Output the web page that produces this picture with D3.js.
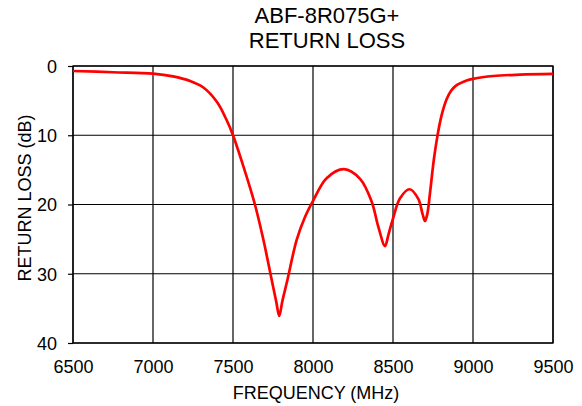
<!DOCTYPE html>
<html>
<head>
<meta charset="utf-8">
<script src="https://cdn.jsdelivr.net/npm/d3@7/dist/d3.min.js"></script>
<style>
  html, body { margin: 0; padding: 0; background: #fff; }
  svg text { font-family: "Liberation Sans", Arial, sans-serif; fill: #000; }
</style>
</head>
<body>
<svg id="chart" width="582" height="406"></svg>
<script>
// ---- data ----
const titleLines = ["ABF-8R075G+", "RETURN LOSS"];
const xLabel = "FREQUENCY (MHz)";
const yLabel = "RETURN LOSS (dB)";
const xTicks = [6500, 7000, 7500, 8000, 8500, 9000, 9500];
const yTicks = [0, 10, 20, 30, 40];
const freqMHz = [6500, 6750, 7000, 7125, 7230, 7315, 7400, 7460, 7500, 7565, 7637, 7690, 7742, 7770, 7789, 7808, 7840, 7898, 7950, 8002, 8085, 8194, 8294, 8367, 8408, 8450, 8472, 8498, 8544, 8604, 8658, 8685, 8700, 8715, 8731, 8756, 8780, 8804, 8835, 8862, 8890, 8960, 9000, 9127, 9294, 9500];
const returnLossDb = [0.72, 0.9, 1.1, 1.5, 2.15, 3.1, 5.2, 7.8, 10.0, 14.5, 20.0, 25.1, 30.9, 34.0, 36.1, 34.0, 30.9, 25.1, 21.8, 19.4, 16.2, 14.9, 16.3, 19.6, 23.2, 26.0, 24.3, 22.2, 19.1, 17.8, 19.2, 21.4, 22.4, 21.3, 18.4, 13.4, 9.8, 7.1, 4.8, 3.6, 2.9, 2.1, 1.85, 1.44, 1.25, 1.15];

// ---- layout ----
const svg = d3.select("#chart");
const L = 73, R = 553, T = 66, B = 343;

const x = d3.scaleLinear().domain([6500, 9500]).range([L, R]);
const y = d3.scaleLinear().domain([0, 40]).range([T, B]);

// grid
const g = svg.append("g");
g.selectAll(".vg").data(xTicks).join("line")
  .attr("x1", d => x(d)).attr("x2", d => x(d))
  .attr("y1", T).attr("y2", B)
  .attr("stroke", "#000").attr("stroke-width", 1.2);
g.selectAll(".hg").data(yTicks).join("line")
  .attr("x1", L).attr("x2", R)
  .attr("y1", d => y(d)).attr("y2", d => y(d))
  .attr("stroke", "#000").attr("stroke-width", 1.2);

// axes
const yAxis = d3.axisLeft(y).tickValues(yTicks).tickSize(5).tickPadding(11).tickFormat(d3.format("d"));
const yg = svg.append("g").attr("transform", `translate(${L},0)`).call(yAxis);
yg.select(".domain").remove();
yg.selectAll("text").style("font-size", "18px").attr("dy", "0.35em");
yg.selectAll("line").attr("stroke", "#000").attr("stroke-width", 1.2);

const xAxis = d3.axisBottom(x).tickValues(xTicks).tickSize(0).tickPadding(17).tickFormat(d3.format("d"));
const xg = svg.append("g").attr("transform", `translate(0,${B})`).call(xAxis);
xg.select(".domain").remove();
xg.selectAll("text").style("font-size", "18px");

// frame
svg.append("rect").attr("x", L).attr("y", T).attr("width", R - L).attr("height", B - T)
  .attr("fill", "none").attr("stroke", "#000").attr("stroke-width", 1.3);

// curve
const data = freqMHz.map((f, i) => ({ f, v: returnLossDb[i] }));
const line = d3.line().x(d => x(d.f)).y(d => y(d.v)).curve(d3.curveCatmullRom.alpha(0.5));
svg.append("path").datum(data).attr("d", line)
  .attr("fill", "none").attr("stroke", "#ff0000").attr("stroke-width", 2.7)
  .attr("stroke-linejoin", "round");

// titles
svg.append("text").attr("x", 327).attr("y", 23).attr("text-anchor", "middle")
  .style("font-size", "22px").text(titleLines[0]);
svg.append("text").attr("x", 327).attr("y", 48).attr("text-anchor", "middle")
  .style("font-size", "22px").text(titleLines[1]);

svg.append("text").attr("x", 316).attr("y", 399).attr("text-anchor", "middle")
  .style("font-size", "18px").text(xLabel);
svg.append("text").attr("transform", "translate(31,198) rotate(-90)").attr("text-anchor", "middle")
  .style("font-size", "18px").text(yLabel);
</script>
</body>
</html>
